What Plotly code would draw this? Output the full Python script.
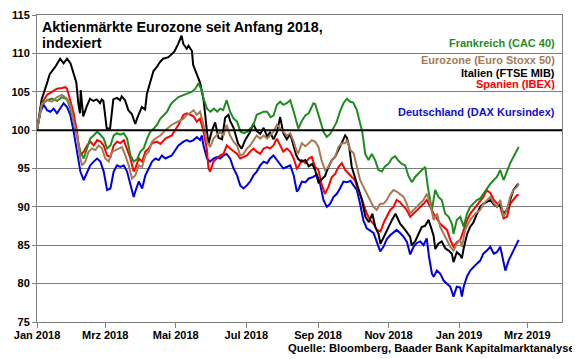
import pandas as pd
import plotly.graph_objects as go

START = "2018-01-01"

# ---- data (day offsets since 2018-01-01, index values) ----
fr_days = [0, 4, 8.7, 13, 17.3, 21.6, 26, 28.8, 31.7, 34.6, 37.5, 40.4, 43.3, 46, 49, 52, 54.8, 57.7, 60.6, 63.5,
           66.3, 69.2, 72, 75, 77.9, 80.8, 83.6, 86.5, 89.4, 92.3, 95.2, 98, 101, 103.8, 106.7, 109.6, 112.5, 115.4,
           117, 122.3, 128, 134, 137, 139.6, 142.5, 144, 147, 150, 153, 156, 158.4, 161, 164, 167, 170, 173, 176,
           179, 182, 184.5, 187.2, 190, 193, 196, 199, 202, 204.5, 207.5, 210.3, 213, 216, 219, 222, 225, 226, 229,
           232, 235, 237.6, 239, 240.5, 243, 245, 247.7, 250.6, 253.5, 256.4, 259, 262, 265, 268, 271, 273.5, 276.6,
           279.4, 281, 282.3, 283.8, 286.7, 289.5, 292.4, 295.3, 298.2, 301, 304, 306.8, 309.7, 312.6, 315.5, 318.4,
           321.3, 324.2, 327, 330, 332.8, 335.7, 338, 341.5, 344.3, 347.2, 350, 353, 356, 358.8, 360.2, 363, 366,
           369, 371.8, 374.6, 377.5, 380.4, 383.3, 386, 389, 392, 395, 397.7, 400.6, 403.5, 406.4, 409.2, 412, 415,
           416.5]
fr_vals = [100, 103.3, 103.9, 104.1, 103.8, 104.3, 104, 102.8, 101.1, 99.3, 97.2, 96.3, 97.6, 98.9, 99.3, 99.8, 99.4,
           98.9, 97.6, 98, 99.3, 99.6, 99.4, 99.6, 98.9, 96.7, 95.9, 96.2, 97.2, 97.6, 98.9, 99.8, 100.2, 100.7, 101.5,
           102, 102.4, 103.3, 103.6, 104.3, 104.6, 105, 105.4, 106.1, 105.2, 104.1, 102.8, 102.4, 102.8, 102.4, 102.8,
           102.6, 103.9, 102.4, 101.5, 101.1, 99.8, 99.6, 99.8, 100.2, 100.7, 102, 102.2, 102.4, 102.4, 101.7, 101.9,
           103.3, 103.7, 103.3, 103.5, 103.9, 102.4, 100.7, 100.2, 101.2, 101.9, 102.2, 103.2, 103.5, 103.4, 102,
           101.2, 99.8, 99.1, 99.5, 100.4, 101, 102.4, 103.5, 104.1, 103.7, 103.6, 102.6, 100.9, 100, 98.7, 96.9,
           96.1, 96.9, 96.1, 94.8, 94.6, 95.3, 95.6, 96.3, 96.6, 96, 95.6, 95.4, 94, 93.2, 93.9, 94.3, 94.8, 95.2,
           92.6, 89.6, 92.2, 91.3, 90.9, 89.1, 88.7, 87.8, 86.5, 88.3, 88.7, 87.4, 89.1, 90, 90.4, 90.9, 91.1, 91.7,
           92.2, 93, 93.5, 93.9, 94.8, 93.5, 94.6, 95.7, 96.5, 97.4, 97.8]

ez_days = [0, 4.3, 8.7, 13, 17.3, 21.6, 26, 28.8, 31.7, 34.6, 37.5, 39, 41.8, 44.7, 47.6, 50.5, 53.4, 56.2, 59, 62,
           65, 67.8, 70.7, 73.5, 76.4, 79.3, 82.2, 85, 88, 90.9, 93.7, 96.6, 99.5, 102.4, 106.7, 111, 116.5, 122.3,
           126.7, 129.5, 132.4, 135.3, 138.2, 141, 144, 147, 149.7, 152.6, 155.5, 158.4, 161.3, 164, 167, 170, 173,
           175.7, 178.6, 181.5, 184.3, 187.2, 190, 193, 196, 199, 201.6, 204.5, 207.4, 210.3, 213, 216, 219, 222,
           224.7, 226, 229, 232, 235, 237.6, 240.5, 243.4, 246, 249, 252, 255, 257.8, 260.7, 263.6, 266.5, 268, 271,
           273.8, 276.6, 279.4, 282.3, 285.2, 288, 291, 293.8, 296.7, 299.6, 302.5, 305.4, 308.3, 311, 314, 317,
           319.8, 322.7, 325.6, 328.5, 331.4, 334.3, 337.1, 340, 343, 346, 348.7, 351.6, 354.5, 357.4, 360.2, 363,
           366, 367.4, 370.3, 374.6, 379, 383.3, 386, 389, 392, 395, 397.7, 400.6, 403.5, 406.4, 409.2, 412, 415,
           416.5]
ez_vals = [100, 103.5, 103.9, 103.7, 104.3, 104.6, 104.1, 103.3, 101.1, 99.3, 96.3, 95.4, 95.9, 97.2, 97.6, 97.4, 98,
           97.6, 96.3, 95.9, 97.2, 97.4, 97.6, 97.8, 96.7, 95.4, 93.7, 94.1, 95.4, 95.2, 96.7, 97.2, 98.5, 98.9, 99.3,
           100, 100.7, 101.1, 101.5, 102, 102.2, 102.6, 102, 102.4, 100.7, 98.5, 97.8, 98.9, 99.3, 99.8, 99.3, 100.7,
           99.3, 98.5, 98, 96.7, 96.9, 97.6, 98, 98.7, 99.3, 98.9, 99.3, 98.9, 99.3, 99.8, 100.7, 100.2, 99.8, 99.3,
           99.6, 98.5, 97.2, 97, 98.3, 97.9, 98.3, 98.7, 98.5, 97.8, 96.1, 94.8, 95.2, 96.1, 96.5, 97.8, 98.3, 98.3,
           98.7, 97.4, 97, 95.2, 93.5, 92.6, 91.7, 90.9, 90, 89.6, 90.4, 90.4, 90.9, 91.7, 92.2, 92, 91.7, 91.3, 90.4,
           89.1, 89.6, 90, 90.4, 90.9, 91.7, 90.4, 88.3, 89.1, 87.4, 86.5, 85.7, 84.8, 84.3, 85.2, 85.7, 84.8, 87,
           88.3, 89.1, 89.6, 90.4, 90.9, 91.3, 90.5, 90, 90.9, 88.7, 89.6, 91.3, 92.2, 92.6, 93]

it_days = [0, 4, 8.4, 11, 15.6, 20, 23, 26, 29, 31, 34, 35.7, 37.2, 37.8, 40, 43, 45.9, 48.7, 51.7, 54.5, 56, 57.4,
           58.8, 60.3, 63.2, 64.6, 66, 69, 71.8, 73.3, 76.1, 79, 82, 85, 86.5, 90.6, 93.5, 95, 98, 100.7, 103.5, 106,
           109, 113.6, 116.5, 119, 122, 125, 126.6, 129.5, 131, 134, 135, 138, 141, 144, 145.4, 147, 148.3, 151, 154,
           157, 160, 162.7, 165.6, 167, 170, 174, 177, 180, 184, 187, 190, 193, 196, 199, 201.6, 204.5, 207.4, 210.3,
           213, 216, 219, 222, 224, 226, 229, 232, 235, 238, 240.5, 243.4, 246, 249, 252, 255, 257.8, 260.7, 263.6,
           266.5, 268, 270, 272.2, 275, 278, 281, 284, 287, 290, 292.5, 295.3, 297, 300, 304, 307, 310, 314, 318.4,
           322.7, 324, 327, 330, 332.8, 335.5, 338.6, 341, 343, 344.4, 347, 350, 353, 356, 358.8, 360.2, 363, 366,
           367.4, 369, 372, 374.6, 377.5, 380.4, 383.3, 386, 389, 392, 395, 397.7, 400.6, 403.5, 406.4, 409, 412, 415,
           416.5]
it_vals = [100, 104, 106, 107.3, 108.2, 109.3, 108.7, 109.3, 108.7, 107.7, 106.2, 103.5, 102.2, 105.2, 101.8, 103.1,
           104.1, 103.8, 104, 103.5, 104, 103.8, 101.8, 100.2, 100.2, 102.6, 104, 104.2, 103.9, 104.4, 103.9, 102.6,
           102.1, 100.8, 101.5, 103, 102.7, 104.7, 106.4, 107.7, 108.2, 108.8, 109.3, 109.5, 109.9, 110.3, 111.2,
           112.3, 111.2, 110.6, 111, 110.3, 108.5, 107.3, 106.2, 104, 101.5, 99.8, 98.2, 99.8, 101, 99, 98.8, 101.6,
           102, 101.2, 100.3, 98.2, 97.6, 98.7, 99.7, 100.8, 99.9, 99.5, 100.3, 99.2, 99.7, 98.8, 99.7, 101.7, 99.6,
           98.8, 99.5, 98, 96.8, 96.2, 95.9, 96.1, 95.3, 95.6, 94.8, 93.2, 93.6, 94, 95.2, 96.1, 96.5, 97.4, 98.3,
           99.3, 99, 97.8, 95.2, 93.9, 92.6, 90.9, 88.7, 88, 89.1, 87.4, 86.5, 85.2, 86.1, 87.4, 88.3, 89.1, 87.8, 87,
           86.1, 85, 85.5, 86.5, 87.4, 87.5, 88.3, 87.2, 86.2, 84.5, 85.2, 85.5, 84.6, 84.3, 83.9, 82.8, 84.1, 83.7,
           83.3, 84.6, 86.5, 87.4, 88, 89.1, 90, 90.4, 90.7, 90.9, 90.3, 90, 90.3, 89.1, 89.6, 90.9, 92.2, 92.8, 93]

es_days = [0, 4.3, 8.7, 13, 17.3, 21.6, 24.5, 26, 28.8, 31.7, 33, 34.6, 36, 37.5, 40.4, 43.3, 46, 49, 52, 54.8, 57.7,
           60.6, 63.5, 66.3, 69.2, 72, 75, 77.9, 80.8, 83.6, 85, 88, 90.9, 93.7, 96.6, 99.5, 103.8, 106.7, 109.6, 111,
           116.5, 122.3, 126.7, 129.5, 132.4, 135.3, 138.2, 141, 144, 146.8, 148.3, 149.7, 152.6, 155.5, 158.4, 161.3,
           164, 167, 170, 173, 175.7, 178.6, 181.5, 184.3, 187.2, 190, 193, 196, 199, 201.6, 204.5, 207.4, 210.3, 213,
           216, 219, 222, 224.7, 226, 229, 232, 235, 237.6, 239, 240.5, 243.4, 246, 249, 252, 255, 257.8, 260.7,
           263.6, 266.5, 269.4, 272.2, 275, 276.6, 279.4, 282.3, 285.2, 288, 291, 294, 297, 300, 302.5, 305.4, 308.3,
           311, 314, 317, 319.8, 322.7, 325.6, 328.5, 331.4, 334.3, 337.1, 340, 343, 348.7, 354.5, 357.4, 360.2, 363,
           366, 369, 372, 374.6, 379, 383.3, 386, 389, 392, 395, 397.7, 400.6, 403.5, 406.4, 409.2, 412, 415, 416.5]
es_vals = [100, 103.5, 104.6, 105, 105.4, 105.5, 105.6, 105.4, 103.9, 102.2, 101.1, 99.8, 98, 96.7, 97.2, 98, 98.5,
           98, 98.7, 98.5, 98, 96.7, 96.5, 98, 98.5, 98.3, 98.7, 97.6, 96.3, 94.6, 95, 96.3, 95.9, 97.2, 97.6, 98.3,
           98.5, 98.2, 98.7, 98.9, 99.3, 100.7, 102, 102.2, 102, 101.8, 101.1, 101.5, 99.8, 97.6, 95, 94.6, 95.9,
           96.3, 96.7, 96.9, 98, 97.6, 97.2, 96.9, 96.3, 96.5, 96.7, 97.2, 97.6, 97.2, 96.9, 97.6, 97.8, 97.6, 98,
           98.9, 98, 97.2, 97.6, 97.2, 96.3, 95, 95.2, 96.1, 95.7, 96.3, 96.5, 95.7, 95.2, 94.8, 93, 91.7, 92.6, 93.9,
           94.3, 95.2, 95.7, 94.8, 94.3, 93.9, 93.5, 92.6, 91.7, 90.4, 89.1, 88.3, 87.8, 87, 86.8, 88, 88.7, 89.6, 90,
           90.9, 90.6, 90, 89.6, 88.7, 89.1, 89.6, 90, 90.4, 90.9, 90, 89.1, 87.8, 87, 85.7, 84.8, 85.4, 85.7, 87,
           88.3, 89.1, 90, 90.9, 91.3, 92.2, 91.8, 90.9, 90.4, 90, 88.5, 88.7, 90.4, 90.9, 91.5, 91.6]

de_days = [0, 2.9, 5.8, 8.7, 11.5, 14.4, 17.3, 20.2, 23, 26, 28.8, 31.7, 34.6, 37.5, 40.4, 43.3, 46, 49, 52, 54.8,
           57.7, 60.6, 63.5, 66.3, 69.2, 72, 75, 77.9, 80.8, 83.6, 85, 88, 90.9, 93.7, 96.6, 99.5, 102.4, 105.3, 108,
           111, 116.5, 122.3, 126.7, 129.5, 132.4, 135.3, 138.2, 141, 142.5, 144, 147, 149.7, 152.6, 155.5, 158.4,
           161.3, 164, 167, 170, 173, 175.7, 178.6, 181.5, 184.3, 187.2, 190, 193, 196, 199, 201.6, 204.5, 207.4,
           210.3, 213, 216, 219, 222, 224.7, 226, 229, 232, 235, 239, 242, 244.8, 247.7, 250.6, 253.5, 256.4, 259.3,
           262, 265, 268, 271, 273.7, 276.6, 279.4, 282.3, 285.2, 288, 291, 293.9, 296.8, 299.6, 302.5, 305.4, 308.3,
           311, 314, 317, 320, 322.7, 325.6, 328.5, 331.4, 334.3, 337, 339, 341.5, 343, 345.8, 348.7, 351.6, 354.5,
           357.4, 360.2, 363, 366, 367.4, 369, 371.8, 374.6, 377.5, 380.4, 383.3, 386, 389, 392, 395, 397.7, 400.6,
           403.5, 405, 407.8, 410.7, 413.6, 416.5]
de_vals = [100, 102.4, 103.3, 102.6, 102.4, 102.8, 102.2, 102.8, 103.5, 103, 102, 99.8, 97.2, 94.6, 93.5, 94.6, 95.4,
           95.9, 96.3, 95.9, 94.6, 92.2, 92.4, 94.6, 95.4, 95.2, 95.4, 94.6, 92.8, 91.3, 92, 93.3, 92.4, 94.1, 95,
           95.9, 96.3, 96.1, 96.7, 96.3, 96.7, 98, 98.5, 98.7, 98.5, 98.7, 99.1, 98.7, 99.3, 98, 96.3, 95.9, 96.3,
           96.5, 96.3, 96.7, 96.9, 96.3, 95, 94.1, 92.8, 92.4, 92.8, 93.3, 94.1, 94.6, 95.4, 95.9, 95.7, 96.3, 96.7,
           96.1, 95.4, 95, 95.2, 95.4, 94.1, 92, 92.2, 93.3, 93.2, 93.7, 93.9, 94.2, 93, 90.9, 90, 90.4, 91.3, 91.7,
           92.4, 93.3, 93.2, 93.4, 92.8, 92.2, 90.4, 88.2, 87.2, 86.9, 86.6, 85.4, 84.2, 84.8, 85.8, 86.3, 86.7, 87,
           86.6, 86.1, 85.4, 83.8, 84.8, 85.3, 85.5, 85, 85.9, 83.5, 81.3, 80.9, 81.7, 81.3, 80.4, 80, 79.6, 78.3,
           79.6, 79.5, 78.3, 79.6, 80.9, 81.7, 82.2, 82.6, 83, 83.9, 84.3, 84.8, 83.9, 84.1, 84.8, 82.6, 81.7, 83,
           83.9, 84.8, 85.7]

series_names = ["Frankreich (CAC 40)", "Eurozone (Euro Stoxx 50)", "Italien (FTSE MIB)",
                "Spanien (IBEX)", "Deutschland (DAX Kursindex)"]
tick_dates = ["2018-01-01", "2018-03-01", "2018-05-01", "2018-07-01", "2018-09-01",
              "2018-11-01", "2019-01-01", "2019-03-01"]
tick_labels = ["Jan 2018", "Mrz 2018", "Mai 2018", "Jul 2018", "Sep 2018",
               "Nov 2018", "Jan 2019", "Mrz 2019"]

# ---- styling ----
C_FR, C_EZ, C_IT, C_ES, C_DE = "#1f8c1f", "#a57a55", "#000000", "#ff0000", "#0000dd"
FONT = "Arial, Liberation Sans, sans-serif"

# the page body adds an 8 px offset; the figure is sized so the plot area lands
# at x 37..562, y 15..322 of the 580x359 window
OFF = 8
W, H = 580 - OFF, 359 - OFF
ML, MR, MT, MB = 37 - OFF, 18, 15 - OFF, 37


def to_dates(days):
    return pd.Timestamp(START) + pd.to_timedelta(days, unit="D")


fig = go.Figure()
order = [
    (de_days, de_vals, C_DE, series_names[4]),
    (es_days, es_vals, C_ES, series_names[3]),
    (it_days, it_vals, C_IT, series_names[2]),
    (fr_days, fr_vals, C_FR, series_names[0]),
    (ez_days, ez_vals, C_EZ, series_names[1]),
]
for d, v, c, n in order:
    fig.add_trace(go.Scatter(x=to_dates(d), y=v, mode="lines", name=n,
                             line=dict(color=c, width=2), showlegend=False))

# horizontal 100 line
fig.add_shape(type="line", xref="paper", x0=0, x1=1, yref="y", y0=100, y1=100,
              line=dict(color="black", width=2), layer="above")

fig.update_layout(
    width=W, height=H,
    margin=dict(l=ML, r=MR, t=MT, b=MB, autoexpand=False),
    paper_bgcolor="white", plot_bgcolor="white",
    font=dict(family=FONT, size=11, color="black"),
    xaxis=dict(type="date", range=["2018-01-01", "2019-03-31"],
               tickvals=tick_dates, ticktext=tick_labels,
               ticks="outside", ticklen=5, tickcolor="#808080",
               ticklabelstandoff=-2,
               showline=True, linecolor="#808080", linewidth=1, mirror=True,
               showgrid=False, zeroline=False,
               tickfont=dict(family=FONT, size=11, color="black", weight="bold")),
    yaxis=dict(range=[75, 115], dtick=5, tick0=75,
               ticks="outside", ticklen=4, tickcolor="#808080",
               showline=True, linecolor="#808080", linewidth=1, mirror=True,
               showgrid=True, gridcolor="#808080", gridwidth=1, zeroline=False,
               tickfont=dict(family=FONT, size=11, color="black", weight="bold")),
)


def px_x(px):
    return (px - 37) / 525.0


def px_y(py):
    return (322 - py) / 307.0


ann = [
    ("Aktienmärkte Eurozone seit Anfang 2018,", 40, 27, "left", "black", 14.3),
    ("indexiert", 40, 42.5, "left", "black", 14.3),
    (series_names[0], 557, 43, "right", C_FR, 11),
    (series_names[1], 557, 60.5, "right", C_EZ, 11),
    (series_names[2], 557, 72.5, "right", C_IT, 11),
    (series_names[3], 557, 84, "right", C_ES, 11),
    (series_names[4], 557, 111.5, "right", "#1010cc", 11),
    ("Quelle: Bloomberg, Baader Bank Kapitalmarktanalyse", 577, 348, "right", "black", 11.2),
]
for text, x, y, anchor, col, size in ann:
    fig.add_annotation(text="<b>" + text + "</b>", xref="paper", yref="paper",
                       x=px_x(x), y=px_y(y), xanchor=anchor, yanchor="middle",
                       showarrow=False, font=dict(family=FONT, size=size, color=col))

fig.write_html("out.html")
